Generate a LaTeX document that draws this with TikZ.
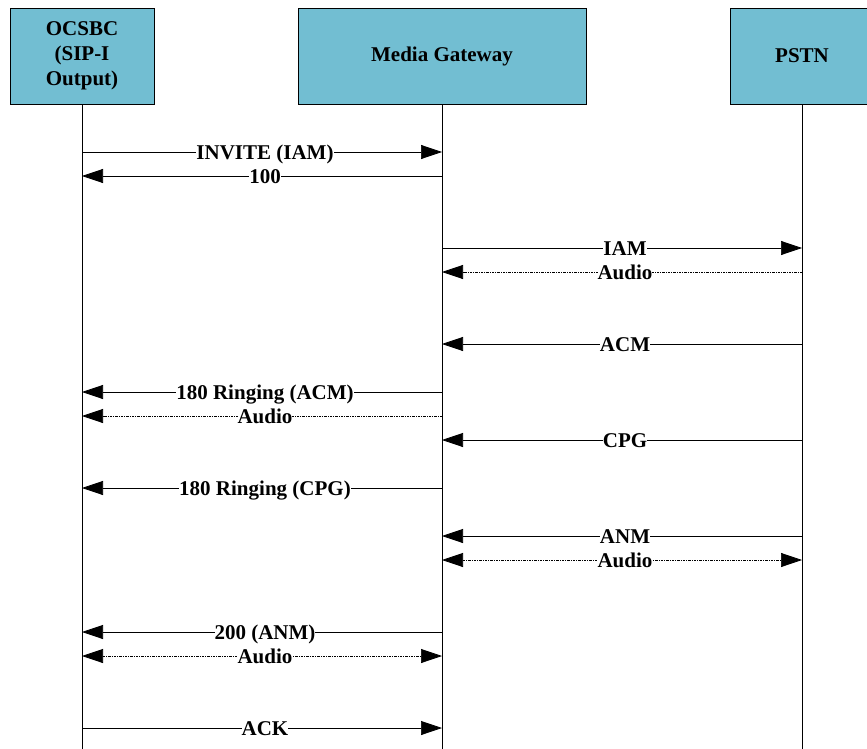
\documentclass[tikz,border=0pt]{standalone}
\usepackage{fontspec}
\setmainfont{Liberation Serif}
\usetikzlibrary{arrows.meta, positioning}
\definecolor{boxcyan}{RGB}{114,190,210}

\begin{document}
\begin{tikzpicture}[x=1pt, y=-1pt,
  lane/.style={draw, line width=0.8pt, fill=boxcyan, minimum height=96pt, inner sep=0pt,
    align=center, font=\fontsize{21}{25}\selectfont\bfseries},
  sig/.style={line width=0.7pt, -{Triangle[length=21pt, width=14pt]}},
  media/.style={sig, dash pattern=on 2.5pt off 1pt on 1pt off 1pt},
  mediab/.style={media, {Triangle[length=21pt, width=14pt]}-{Triangle[length=21pt, width=14pt]}},
  msg/.style={fill=white, inner sep=0pt, anchor=base, yshift=-7pt,
    font=\fontsize{21}{25}\selectfont\bfseries}]
\useasboundingbox (0,0) rectangle (867,749);

% lanes
\node[lane, minimum width=144pt] (ocsbc) at (82,56) {OCSBC\\(SIP-I\\Output)};
\node[lane, minimum width=288pt] (mgw) at (442,56) {Media Gateway};
\node[lane, minimum width=144pt] (pstn) at (802,56) {PSTN};
\coordinate (bot) at (0,749);
\foreach \lane in {ocsbc, mgw, pstn}{
  \draw[line width=0.7pt] (\lane.south) -- (\lane.south |- bot);
}

% messages
\foreach \y/\src/\dst/\lbl/\kind in {
  152/ocsbc/mgw/{INVITE (IAM)}/sig,
  176/mgw/ocsbc/{100}/sig,
  248/mgw/pstn/{IAM}/sig,
  272/pstn/mgw/{Audio}/media,
  344/pstn/mgw/{ACM}/sig,
  392/mgw/ocsbc/{180 Ringing (ACM)}/sig,
  416/mgw/ocsbc/{Audio}/media,
  440/pstn/mgw/{CPG}/sig,
  488/mgw/ocsbc/{180 Ringing (CPG)}/sig,
  536/pstn/mgw/{ANM}/sig,
  560/mgw/pstn/{Audio}/mediab,
  632/mgw/ocsbc/{200 (ANM)}/sig,
  656/ocsbc/mgw/{Audio}/mediab,
  728/ocsbc/mgw/{ACK}/sig}{
  \coordinate (row) at (0,\y);
  \draw[\kind] (\src |- row) -- (\dst |- row) node[msg, midway, xshift=3pt] {\lbl};
}
\end{tikzpicture}
\end{document}
